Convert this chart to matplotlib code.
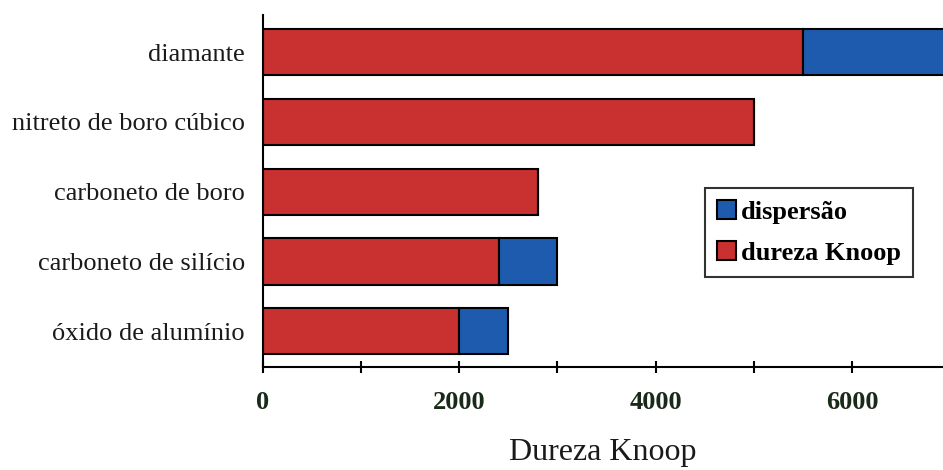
import matplotlib
matplotlib.use("Agg")
import matplotlib.pyplot as plt
from matplotlib.ticker import MultipleLocator

categories = ["óxido de alumínio", "carboneto de silício", "carboneto de boro",
              "nitreto de boro cúbico", "diamante"]
dureza = [2000, 2400, 2800, 5000, 5500]
dispersao = [500, 600, 0, 0, 2500]
xticks = [0, 2000, 4000, 6000]

red = "#C8312F"
blue = "#1E5BAE"

plt.rcParams["font.family"] = ["Liberation Serif", "DejaVu Serif"]

fig = plt.figure(figsize=(9.43, 4.70), dpi=100)
ax = fig.add_axes([263/943, 1 - 367/470, 1 - 263/943, (367 - 15)/470])

y = list(range(len(categories)))
h = 0.66
ax.barh(y, dureza, height=h, color=red, edgecolor="black", linewidth=1.5,
        label="dureza Knoop")
ax.barh(y, dispersao, left=dureza, height=h, color=blue, edgecolor="black",
        linewidth=1.5, label="dispersão")

ax.set_xlim(0, 6927)
ax.set_ylim(-0.51, 4.53)
ax.set_yticks(y)
ax.set_yticklabels(categories, fontsize=19, color="#1a1a1a")
ax.tick_params(axis="y", length=0, pad=13)

ax.set_xticks(xticks)
ax.set_xticklabels([str(v) for v in xticks], fontsize=19, fontweight="bold",
                   color="#1a2a1a")
ax.xaxis.set_minor_locator(MultipleLocator(1000))
ax.tick_params(axis="x", which="both", direction="inout", length=9, width=1.5,
               pad=13)

for s in ["top", "right"]:
    ax.spines[s].set_visible(False)
for s in ["left", "bottom"]:
    ax.spines[s].set_linewidth(1.5)

ax.set_xlabel("Dureza Knoop", fontsize=23, labelpad=17, color="#1a1a1a")

handles, labels = ax.get_legend_handles_labels()
leg = ax.legend(handles[::-1], labels[::-1], loc="upper left",
                bbox_to_anchor=((705 - 263)/680, (367 - 188)/352),
                fancybox=False, shadow=False, frameon=True, edgecolor="black",
                prop={"weight": "bold", "size": 19}, handlelength=0.72,
                handleheight=0.72, handletextpad=0.2, borderpad=0.45,
                labelspacing=0.68, borderaxespad=0)
leg.get_frame().set_linewidth(1.5)

fig.savefig("out.png", dpi=100)
